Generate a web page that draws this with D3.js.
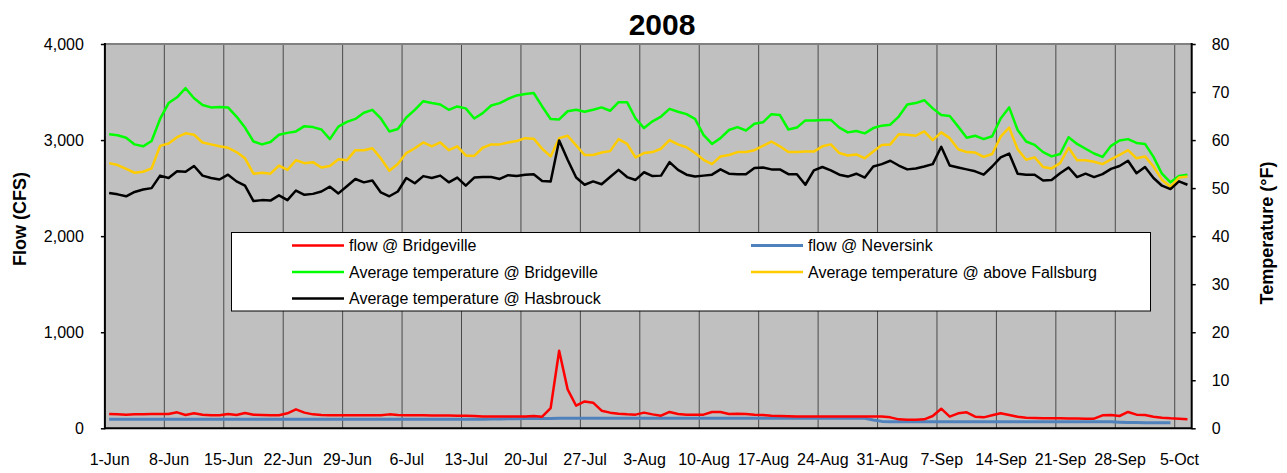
<!DOCTYPE html>
<html>
<head>
<meta charset="utf-8">
<script src="https://cdn.jsdelivr.net/npm/d3@7"></script>
<style>
  body { margin: 0; background: #fff; }
  svg { display: block; font-family: "Liberation Sans", Arial, sans-serif; }
</style>
</head>
<body>
<div id="chart"></div>
<script>
// daily values, 1-Jun-2008 .. 6-Oct-2008
var flowBridgeville = [
  149, 145, 142, 145, 145, 149, 149, 149, 166, 138, 156, 142, 135, 135, 149, 138, 159, 142, 138, 135, 135, 156, 197, 163, 145, 138, 135, 135, 135, 135, 135, 135, 135, 145, 138, 135, 135, 135, 134, 133, 132, 131, 131,
  128, 124, 124, 124, 124, 124, 124, 128, 121, 211, 807, 405, 235, 280, 267, 183, 163, 152, 145, 142, 163, 145, 131, 170, 149, 142, 142, 142, 170, 170, 149, 152, 149, 142, 138, 131, 128, 126, 124, 124, 124, 124, 124,
  124, 124, 124, 124, 124, 124, 114, 93, 90, 90, 93, 128, 204, 121, 156, 166, 121, 114, 135, 156, 138, 121, 111, 107, 104, 104, 104, 102, 101, 100, 100, 135, 138, 128, 170, 142, 138, 121, 111, 104, 100, 93
];
var flowNeversink = [
  95, 95, 95, 95, 95, 95, 95, 95, 95, 95, 95, 95, 95, 95, 95, 95, 95, 95, 95, 95, 95, 95, 95, 95, 95, 95, 95, 95, 95, 95, 95, 95, 95, 95, 95, 95, 95, 95, 95, 95, 95, 95, 95, 95, 95,
  97, 98, 99, 100, 101, 102, 103, 103,
  104, 104, 104, 104, 104, 104, 104, 104, 104, 104, 104, 104, 104, 104, 104, 104, 104, 104, 104, 104, 104, 104, 104, 104, 104, 104, 104, 104, 104, 104, 104, 104, 104, 104, 104, 104, 104,
  86, 72,
  69, 69, 69, 69, 69, 69, 69, 69, 69, 69, 69, 69, 69, 69, 69, 69, 69, 69, 69, 69, 69, 69, 69, 69, 69,
  68, 67, 64, 61, 60, 59, 59, 59, 59
];
var tempBridgeville = [
  61.2, 61.0, 60.5, 59.1, 58.7, 59.8, 64.4, 67.7, 68.9, 70.8, 68.7, 67.3, 66.8, 66.9, 66.8, 64.9, 62.6, 59.7, 59.1, 59.6, 61.1, 61.5, 61.8, 62.9, 62.7, 62.2, 60.2, 62.8, 63.8, 64.4, 65.7, 66.3, 64.5,
  61.8, 62.3, 64.7, 66.3, 68.1, 67.7, 67.4, 66.3, 67.0, 66.6, 64.5, 65.6, 67.2, 67.7, 68.6, 69.3, 69.6, 69.8, 67.0, 64.4, 64.3, 66.0, 66.3, 65.9, 66.3, 66.8, 66.1, 67.9, 67.9, 64.5, 62.5, 63.9,
  64.9, 66.5, 65.9, 65.4, 64.4, 61.1, 59.2, 60.4, 62.1, 62.7, 62.0, 63.4, 63.7, 65.4, 65.2, 62.2, 62.6, 64.1, 64.1, 64.2, 64.2, 62.6, 61.6, 61.9, 61.4, 62.5, 63.0, 63.2, 64.9, 67.4, 67.7, 68.3,
  66.6, 65.2, 65.0, 62.8, 60.5, 60.9, 60.2, 60.8, 64.5, 66.8, 62.1, 59.7, 59.0, 57.5, 56.6, 57.1, 60.6, 59.2, 58.2, 57.2, 56.5, 58.8, 59.9, 60.2, 59.4, 59.2, 56.5, 53.0, 51.2, 52.5, 52.8
];
var tempFallsburg = [
  55.2, 54.8, 54.0, 53.2, 53.4, 54.1, 58.8, 59.3, 60.6, 61.4, 61.1, 59.5, 59.1, 58.7, 58.4, 57.5, 56.2, 53.0, 53.2, 53.0, 54.7, 53.8, 55.8, 55.2, 55.4, 54.3, 54.6, 56.0, 55.8, 57.9, 57.9, 58.3, 56.2,
  53.6, 55.0, 57.3, 58.3, 59.5, 58.7, 59.5, 57.9, 58.7, 56.8, 56.7, 58.4, 59.1, 59.1, 59.5, 59.8, 60.4, 60.3, 58.2, 56.6, 60.4, 60.9, 58.9, 56.9, 56.9, 57.4, 57.7, 60.2, 59.2, 56.4, 57.3, 57.5,
  58.2, 60.0, 59.1, 58.5, 57.3, 55.9, 55.0, 56.6, 56.9, 57.5, 57.5, 57.9, 58.8, 59.7, 58.7, 57.5, 57.5, 57.6, 57.6, 58.7, 59.1, 57.3, 56.8, 57.0, 56.2, 57.6, 59.0, 59.1, 61.2, 61.1, 60.9, 61.8,
  60.0, 61.6, 60.4, 58.1, 57.5, 57.4, 56.5, 57.1, 60.7, 62.6, 58.1, 55.9, 56.4, 54.4, 54.1, 55.2, 58.4, 55.8, 55.8, 55.5, 55.0, 56.0, 56.9, 57.9, 56.2, 56.6, 54.5, 51.7, 50.3, 52.2, 52.4
];
var tempHasbrouck = [
  49.0, 48.7, 48.3, 49.2, 49.7, 50.0, 52.6, 52.1, 53.5, 53.4, 54.6, 52.6, 52.1, 51.8, 52.8, 51.4, 50.5, 47.3, 47.5, 47.4, 48.5, 47.5, 49.5, 48.6, 48.8, 49.3, 50.3, 48.9, 50.4, 51.9, 51.2, 51.6, 49.1,
  48.3, 49.3, 52.1, 51.0, 52.5, 52.1, 52.6, 51.2, 52.2, 50.5, 52.2, 52.3, 52.3, 51.9, 52.7, 52.5, 52.8, 52.9, 51.5, 51.4, 59.9, 55.9, 52.2, 50.7, 51.4, 50.8, 52.3, 53.8, 52.3, 51.7, 53.3, 52.5,
  52.6, 55.4, 53.8, 52.8, 52.4, 52.6, 52.8, 53.9, 53.0, 52.9, 52.9, 54.2, 54.3, 53.9, 53.9, 52.9, 52.9, 50.7, 53.7, 54.4, 53.7, 52.8, 52.4, 53.0, 52.2, 54.5, 55.0, 55.7, 54.7, 53.9, 54.1, 54.5,
  55.0, 58.6, 54.7, 54.3, 53.9, 53.5, 52.8, 54.5, 56.4, 57.2, 53.0, 52.8, 52.8, 51.6, 51.7, 53.1, 54.3, 52.3, 53.0, 52.3, 52.9, 54.0, 54.6, 55.7, 53.1, 54.4, 52.1, 50.5, 49.8, 51.4, 50.7
];

var flowTicks = [0, 1000, 2000, 3000, 4000];
var tempTicks = [0, 10, 20, 30, 40, 50, 60, 70, 80];

var series = [
  {name: "flow @ Bridgeville", values: flowBridgeville, axis: "flow", color: "#ff0000", w: 2.5},
  {name: "flow @ Neversink", values: flowNeversink, axis: "flow", color: "#4f81bd", w: 3},
  {name: "Average temperature @ Bridgeville", values: tempBridgeville, axis: "temp", color: "#00ff00", w: 2.5},
  {name: "Average temperature @ above Fallsburg", values: tempFallsburg, axis: "temp", color: "#ffcc00", w: 2.5},
  {name: "Average temperature @ Hasbrouck", values: tempHasbrouck, axis: "temp", color: "#000000", w: 2.5}
];

var width = 1287, height = 473;
var plot = {left: 104.9, right: 1191.7, top: 44, bottom: 428.3};

var start = new Date(Date.UTC(2008, 5, 1));
var end = new Date(Date.UTC(2008, 9, 7));
var days = d3.utcDay.range(start, d3.utcDay.offset(start, flowBridgeville.length));
var mid = function(d) { return d3.utcHour.offset(d, 12); };

var x = d3.scaleUtc().domain([start, end]).range([plot.left, plot.right]);
var yFlow = d3.scaleLinear().domain([0, 4000]).range([plot.bottom, plot.top]);
var yTemp = d3.scaleLinear().domain([0, 80]).range([plot.bottom, plot.top]);

var svg = d3.select("#chart").append("svg")
  .attr("width", width)
  .attr("height", height);

// plot area
svg.append("rect")
  .attr("x", plot.left).attr("y", plot.top)
  .attr("width", plot.right - plot.left).attr("height", plot.bottom - plot.top)
  .attr("fill", "#c0c0c0");

var weeks = d3.utcWeek.range(start, end);

svg.append("g")
  .selectAll("line")
  .data(weeks.slice(1))
  .enter().append("line")
  .attr("x1", function(d) { return x(d); })
  .attr("x2", function(d) { return x(d); })
  .attr("y1", plot.top).attr("y2", plot.bottom)
  .attr("stroke", "#4a4a4a")
  .attr("stroke-width", 1);

svg.append("line")
  .attr("x1", plot.left).attr("x2", plot.right)
  .attr("y1", plot.top).attr("y2", plot.top)
  .attr("stroke", "#808080").attr("stroke-width", 2);

// axes
var yAxisL = d3.axisLeft(yFlow).tickValues(flowTicks).tickFormat(d3.format(",")).tickSize(4).tickPadding(17);
var yAxisR = d3.axisRight(yTemp).tickValues(tempTicks).tickSize(4).tickPadding(16);

var gl = svg.append("g").attr("transform", "translate(" + plot.left + ",0)").call(yAxisL);
var gr = svg.append("g").attr("transform", "translate(" + plot.right + ",0)").call(yAxisR);

[gl, gr].forEach(function(g) {
  g.select(".domain").remove();
  g.selectAll(".tick line").attr("stroke", "#000").attr("stroke-width", 1.5);
  g.selectAll("text").attr("font-size", 16).attr("fill", "#000")
    .style("font-family", "Liberation Sans, Arial, sans-serif");
});

var xAxis = d3.axisBottom(x)
  .tickValues(weeks.map(mid))
  .tickFormat(d3.utcFormat("%-d-%b"))
  .tickSize(0)
  .tickPadding(25);

var gx = svg.append("g").attr("transform", "translate(0," + plot.bottom + ")").call(xAxis);
gx.select(".domain").remove();
gx.selectAll("text").attr("font-size", 16).attr("fill", "#000")
  .style("font-family", "Liberation Sans, Arial, sans-serif");

// axis lines
svg.append("line").attr("x1", plot.left).attr("x2", plot.left).attr("y1", plot.top - 1).attr("y2", plot.bottom + 1)
  .attr("stroke", "#000").attr("stroke-width", 2);
svg.append("line").attr("x1", plot.right).attr("x2", plot.right).attr("y1", plot.top - 1).attr("y2", plot.bottom + 1)
  .attr("stroke", "#000").attr("stroke-width", 2);
svg.append("line").attr("x1", plot.left).attr("x2", plot.right).attr("y1", plot.bottom).attr("y2", plot.bottom)
  .attr("stroke", "#000").attr("stroke-width", 2);

// lines
var drawOrder = [1, 0, 2, 3, 4];
drawOrder.forEach(function(i) {
  var s = series[i];
  var yS = s.axis === "flow" ? yFlow : yTemp;
  var line = d3.line()
    .x(function(d, j) { return x(mid(days[j])); })
    .y(function(d) { return yS(d); });
  svg.append("path")
    .datum(s.values)
    .attr("d", line)
    .attr("fill", "none")
    .attr("stroke", s.color)
    .attr("stroke-width", s.w)
    .attr("stroke-linejoin", "round");
});

// legend
var legend = svg.append("g");
legend.append("rect")
  .attr("x", 231.5).attr("y", 232.5)
  .attr("width", 919).attr("height", 78.5)
  .attr("fill", "#fff").attr("stroke", "#000").attr("stroke-width", 1);

var colX = [292, 751];
var rowY = [245.5, 272, 298.5];

series.forEach(function(s, i) {
  var cx = colX[i % 2], cy = rowY[Math.floor(i / 2)];
  legend.append("line")
    .attr("x1", cx).attr("x2", cx + 52)
    .attr("y1", cy).attr("y2", cy)
    .attr("stroke", s.color).attr("stroke-width", s.w);
  legend.append("text")
    .attr("x", cx + 57).attr("y", cy)
    .attr("dy", "0.35em")
    .attr("font-size", 16)
    .text(s.name);
});

// titles
svg.append("text")
  .attr("x", 662).attr("y", 35)
  .attr("text-anchor", "middle")
  .attr("font-size", 30).attr("font-weight", "bold")
  .text("2008");

svg.append("text")
  .attr("transform", "translate(26,219) rotate(-90)")
  .attr("text-anchor", "middle")
  .attr("font-size", 18).attr("font-weight", "bold")
  .text("Flow (CFS)");

svg.append("text")
  .attr("transform", "translate(1273,233) rotate(-90)")
  .attr("text-anchor", "middle")
  .attr("font-size", 18).attr("font-weight", "bold")
  .text("Temperature (°F)");
</script>
</body>
</html>
